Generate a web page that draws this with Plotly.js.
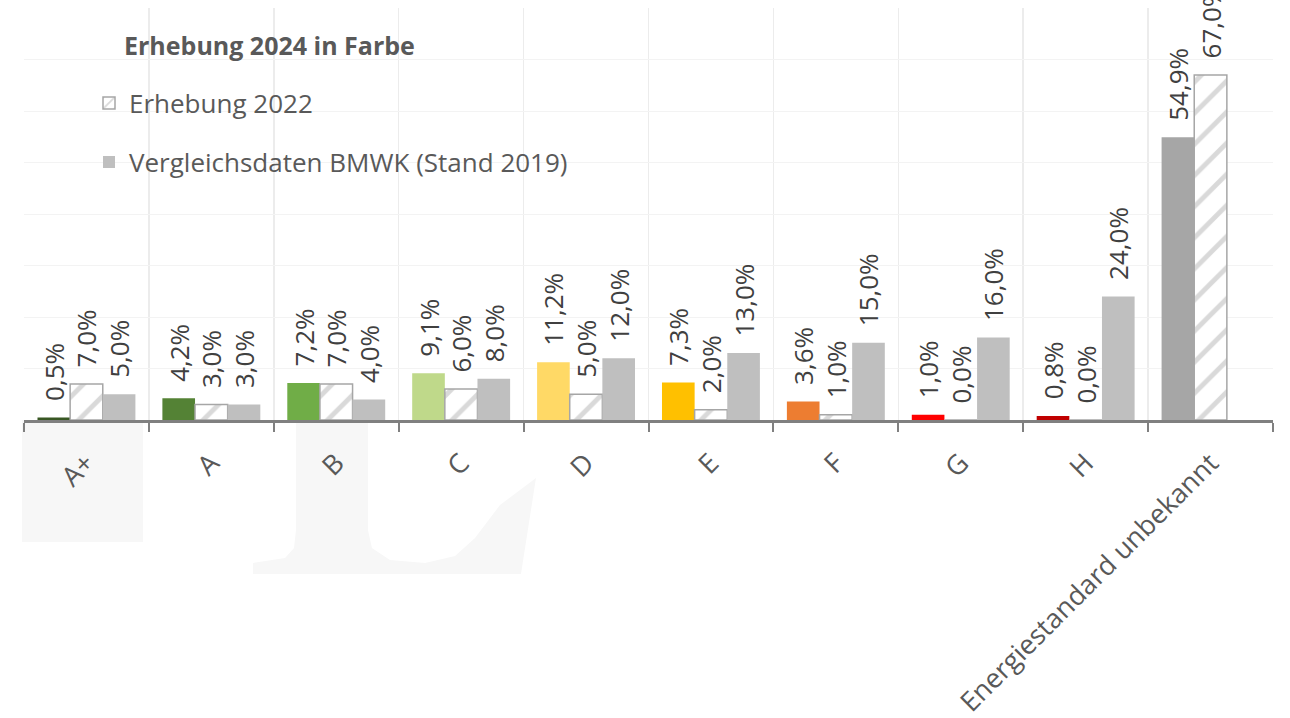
<!DOCTYPE html>
<html>
<head>
<meta charset="utf-8">
<script src="https://cdn.plot.ly/plotly-3.0.1.min.js"></script>
<style>
  html, body { margin: 0; padding: 0; background: #ffffff; }
  #chart { width: 1290px; height: 718px; }
</style>
</head>
<body>
<div id="chart"></div>
<script>
// ---- data ----
const categories = ["A+", "A", "B", "C", "D", "E", "F", "G", "H", "Energiestandard unbekannt"];
const erhebung2024 = [0.5, 4.2, 7.2, 9.1, 11.2, 7.3, 3.6, 1.0, 0.8, 54.9];
const erhebung2022 = [7.0, 3.0, 7.0, 6.0, 5.0, 2.0, 1.0, 0.0, 0.0, 67.0];
const bmwk2019 = [5.0, 3.0, 4.0, 8.0, 12.0, 13.0, 15.0, 16.0, 24.0, null];
const colors2024 = ["#385723", "#548235", "#70ad47", "#bfd98a", "#ffd966", "#ffc000", "#ed7d31", "#ff0000", "#c00000", "#a6a6a6"];
const seriesNames = ["Erhebung 2024 in Farbe", "Erhebung 2022", "Vergleichsdaten BMWK (Stand 2019)"];

const FONT = "Open Sans, Lato, DejaVu Sans, sans-serif";
const labelFont = {family: FONT, size: 26, color: "#404040"};
const pad = "\u00a0\u00a0";

const common = {
  type: "bar",
  x: categories,
  textposition: "outside",
  textangle: -90,
  texttemplate: pad + "%{y:.1f}%",
  textfont: labelFont,
  cliponaxis: false,
  constraintext: "none",
  hoverinfo: "skip"
};

const traces = [
  Object.assign({}, common, {
    name: seriesNames[0],
    y: erhebung2024,
    marker: {color: colors2024, line: {width: 0}},
    showlegend: false
  }),
  Object.assign({}, common, {
    name: seriesNames[1],
    y: erhebung2022,
    marker: {
      color: "#ffffff",
      line: {color: "#a6a6a6", width: 1.5},
      pattern: {shape: "/", fgcolor: "#d9d9d9", bgcolor: "#ffffff", size: 22, solidity: 0.22}
    },
    legend: "legend2",
    showlegend: true
  }),
  Object.assign({}, common, {
    name: seriesNames[2],
    y: bmwk2019,
    marker: {color: "#bfbfbf", line: {width: 0}},
    legend: "legend3",
    showlegend: true
  })
];

// pixel helpers for decorative watermark (paper coords)
const L = 24, R = 1273, T = 8, B = 420;
const px = v => (v - L) / (R - L);
const py = v => (B - v) / (B - T);
function pathFrom(pts) {
  return "M" + pts.map(p => px(p[0]).toFixed(4) + "," + py(p[1]).toFixed(4)).join(" L") + " Z";
}
const wm = "#f7f7f7";
const shapes = [
  {type: "rect", xref: "paper", yref: "paper", x0: px(22), x1: px(143), y0: py(420), y1: py(542),
   fillcolor: wm, line: {width: 0}, layer: "below"},
  {type: "path", xref: "paper", yref: "paper", layer: "below", fillcolor: wm, line: {width: 0},
   path: pathFrom([
     [296, 420], [368, 420], [368, 530], [372, 548], [390, 560], [425, 563], [455, 556], [475, 538], [500, 505], [536, 478],
     [521, 574], [253, 574], [253, 563], [285, 558], [294, 548], [296, 530]
   ])}
];

const layout = {
  width: 1290,
  height: 718,
  margin: {l: L, r: 1290 - R, t: T, b: 718 - B},
  paper_bgcolor: "#ffffff",
  plot_bgcolor: "rgba(0,0,0,0)",
  separators: ",.",
  barmode: "group",
  bargap: 0.216,
  bargroupgap: 0,
  font: {family: FONT, color: "#595959"},
  xaxis: {
    type: "category",
    tickson: "boundaries",
    ticks: "outside",
    ticklen: 9,
    tickwidth: 2,
    tickcolor: "#808080",
    showline: true,
    linecolor: "#808080",
    linewidth: 2.5,
    showgrid: true,
    gridcolor: "#ececec",
    gridwidth: 1.5,
    tickangle: -45,
    ticklabelstandoff: 14,
    tickfont: {family: FONT, size: 27, color: "#595959"},
    fixedrange: true
  },
  yaxis: {
    range: [0, 80],
    dtick: 10,
    showticklabels: false,
    showgrid: true,
    gridcolor: "#f3f3f3",
    gridwidth: 1,
    zeroline: false,
    showline: false,
    fixedrange: true
  },
  legend2: {
    x: px(89), xanchor: "left", y: py(103), yanchor: "middle",
    bgcolor: "rgba(0,0,0,0)", borderwidth: 0,
    font: {family: FONT, size: 26, color: "#595959"},
    itemclick: false, itemdoubleclick: false
  },
  legend3: {
    x: px(89), xanchor: "left", y: py(162), yanchor: "middle",
    bgcolor: "rgba(0,0,0,0)", borderwidth: 0,
    font: {family: FONT, size: 26, color: "#595959"},
    itemclick: false, itemdoubleclick: false
  },
  annotations: [{
    xref: "paper", yref: "paper", x: px(122), y: py(45), xanchor: "left", yanchor: "middle",
    text: "<b>" + seriesNames[0] + "</b>", showarrow: false,
    font: {family: FONT, size: 25, color: "#595959"}
  }],
  shapes: shapes
};

Plotly.newPlot("chart", traces, layout, {displayModeBar: false, staticPlot: true});
</script>
</body>
</html>
